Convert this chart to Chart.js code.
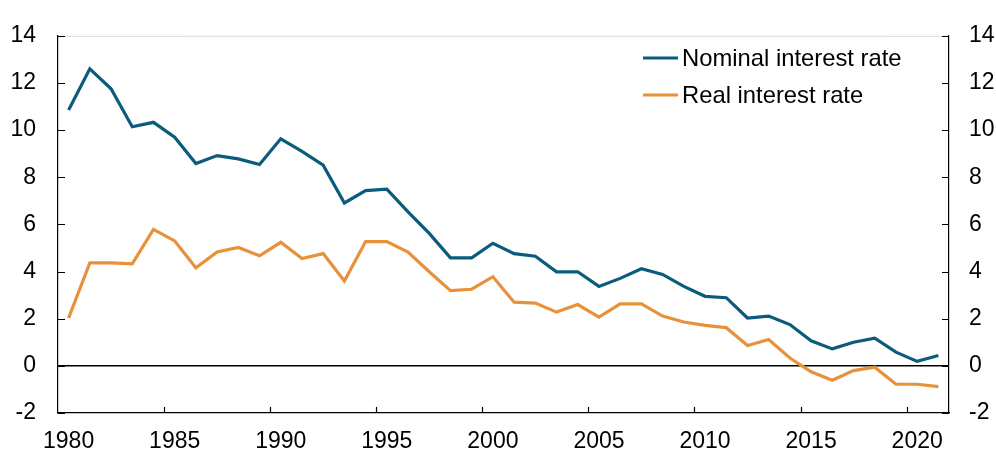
<!DOCTYPE html>
<html>
<head>
<meta charset="utf-8">
<script src="https://cdn.jsdelivr.net/npm/chart.js@4/dist/chart.umd.min.js"></script>
<style>
html,body{margin:0;padding:0;background:#fff;}
#wrap{width:996px;height:451px;}
</style>
</head>
<body>
<div id="wrap"><canvas id="c" width="996" height="451"></canvas></div>
<script>
const years = [];
for (let y = 1980; y <= 2021; y++) years.push(String(y));

const nominalRate = [10.85, 12.6, 11.75, 10.14, 10.33, 9.7, 8.58, 8.92, 8.78, 8.54,
  9.63, 9.1, 8.51, 6.91, 7.43, 7.5, 6.53, 5.62, 4.58, 4.58,
  5.2, 4.76, 4.65, 3.99, 3.99, 3.37, 3.71, 4.12, 3.88, 3.37,
  2.95, 2.89, 2.03, 2.11, 1.75, 1.06, 0.72, 1.0, 1.17, 0.58,
  0.19, 0.44];

const realRate = [2.03, 4.37, 4.37, 4.33, 5.79, 5.3, 4.16, 4.83, 5.02, 4.67,
  5.24, 4.55, 4.76, 3.6, 5.27, 5.27, 4.83, 3.99, 3.19, 3.25,
  3.78, 2.7, 2.66, 2.28, 2.6, 2.07, 2.63, 2.63, 2.11, 1.86,
  1.72, 1.62, 0.86, 1.12, 0.33, -0.25, -0.61, -0.2, -0.06, -0.78,
  -0.78, -0.88];

const seriesNames = ["Nominal interest rate", "Real interest rate"];
const yTicks = [-2, 0, 2, 4, 6, 8, 10, 12, 14];

const FONT = "'Liberation Sans', Arial, sans-serif";
const BLUE = "#0b5b7c";
const ORANGE = "#e8913a";

const decoPlugin = {
  id: 'deco',
  afterDraw(chart) {
    const ctx = chart.ctx;
    const ca = chart.chartArea;
    const x = chart.scales.x, yl = chart.scales.y, yr = chart.scales.y2;
    ctx.save();
    // top border
    ctx.strokeStyle = '#d9d9d9';
    ctx.lineWidth = 1;
    ctx.beginPath();
    ctx.moveTo(ca.left, ca.top + 0.5);
    ctx.lineTo(ca.right, ca.top + 0.5);
    ctx.stroke();
    // inward ticks
    ctx.strokeStyle = '#000';
    ctx.lineWidth = 1.2;
    ctx.beginPath();
    yTicks.forEach(v => {
      const py = Math.round(yl.getPixelForValue(v)) + 0.5;
      ctx.moveTo(ca.left, py); ctx.lineTo(ca.left + 7, py);
      const py2 = Math.round(yr.getPixelForValue(v)) + 0.5;
      ctx.moveTo(ca.right, py2); ctx.lineTo(ca.right - 7, py2);
    });
    years.forEach((yr_, i) => {
      if (i > 0 && Number(yr_) % 5 === 0) {
        const px = Math.round((x.getPixelForValue(i - 1) + x.getPixelForValue(i)) / 2) + 0.5;
        ctx.moveTo(px, ca.bottom); ctx.lineTo(px, ca.bottom - 6);
      }
    });
    ctx.stroke();
    // legend
    const ds = chart.data.datasets;
    const rows = [58, 95];
    ctx.font = "23.8px " + FONT;
    ctx.textBaseline = 'middle';
    ctx.textAlign = 'left';
    ds.forEach((d, i) => {
      ctx.strokeStyle = d.borderColor;
      ctx.lineWidth = 3.2;
      ctx.beginPath();
      ctx.moveTo(643, rows[i]); ctx.lineTo(678, rows[i]);
      ctx.stroke();
      ctx.fillStyle = '#000';
      ctx.fillText(d.label, 682, rows[i] + 1);
    });
    ctx.restore();
  }
};

new Chart(document.getElementById('c'), {
  type: 'line',
  data: {
    labels: years,
    datasets: [
      { label: seriesNames[0], data: nominalRate, borderColor: BLUE, backgroundColor: BLUE,
        borderWidth: 3.2, pointRadius: 0, tension: 0, yAxisID: 'y' },
      { label: seriesNames[1], data: realRate, borderColor: ORANGE, backgroundColor: ORANGE,
        borderWidth: 3.2, pointRadius: 0, tension: 0, yAxisID: 'y' }
    ]
  },
  options: {
    responsive: false,
    animation: false,
    layout: { padding: { top: 29, left: 0, right: 0, bottom: 0 } },
    plugins: { legend: { display: false }, tooltip: { enabled: false } },
    scales: {
      x: {
        type: 'category',
        offset: true,
        grid: { display: false, drawTicks: false },
        border: { display: true, color: '#000', width: 1.2 },
        ticks: {
          autoSkip: false, maxRotation: 0, minRotation: 0, padding: 15,
          color: '#000', font: { family: FONT, size: 23 },
          callback: function(v, i) { const l = years[i]; return Number(l) % 5 === 0 ? l : ''; }
        },
        afterFit(s) { s.height = 38; }
      },
      y: {
        position: 'left', min: -2, max: 14,
        grid: { drawTicks: false, lineWidth: 1.5,
          color: c => (c.tick && c.tick.value === 0) ? '#000' : 'rgba(0,0,0,0)' },
        border: { display: true, color: '#000', width: 1.2 },
        ticks: { stepSize: 2, padding: 22, color: '#000', font: { family: FONT, size: 23 } },
        afterFit(s) { s.width = 58; }
      },
      y2: {
        position: 'right', min: -2, max: 14,
        grid: { display: false, drawTicks: false },
        border: { display: true, color: '#000', width: 1.2 },
        ticks: { stepSize: 2, padding: 20, color: '#000', font: { family: FONT, size: 23 } },
        afterFit(s) { s.width = 47; }
      }
    }
  },
  plugins: [decoPlugin]
});
</script>
</body>
</html>
